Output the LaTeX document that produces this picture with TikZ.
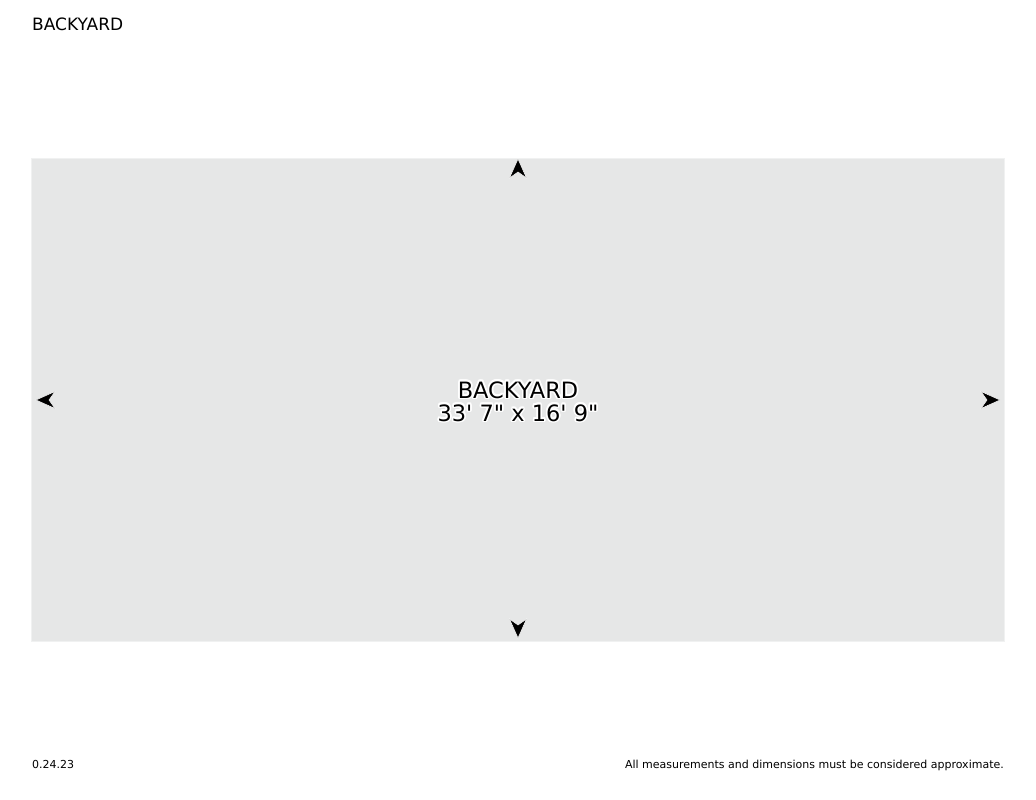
\documentclass[tikz,border=0pt]{standalone}
\usepackage{fontspec}
\setmainfont{DejaVu Sans}
\usepackage{contour}
\contourlength{1.6pt}
\usetikzlibrary{positioning}
\definecolor{yardgrey}{RGB}{230,231,231}
\definecolor{yardedge}{RGB}{240,241,241}
\newcommand{\ft}{\textquotesingle}
\newcommand{\inch}{\textquotedbl}

\begin{document}
\begin{tikzpicture}[x=1pt, y=-1pt,
    yard/.style={fill=yardgrey, draw=yardedge, line width=0.8pt},
    dimtip/.style={fill=black, draw=white, line width=0.5pt, line join=miter},
    pagetitle/.style={font=\fontsize{17}{19}\selectfont, anchor=base west, inner sep=0pt},
    roomname/.style={font=\fontsize{22.5}{24}\selectfont, anchor=base, inner sep=0pt},
    footer/.style={font=\fontsize{11}{12}\selectfont, anchor=base, inner sep=0pt}]
  \useasboundingbox (0,0) rectangle (1036,800);
  % yard area
  \draw [yard] (31,158) rectangle (1004,641);
  % dimension tips
  \foreach \x/\y/\a in {518/159/90, 518/638/-90, 36/400/180, 1000/400/0}
    \filldraw [dimtip, shift={(\x,\y)}, rotate=\a] (0,0) -- (-19,8.5) -- (-13,0) -- (-19,-8.5) -- cycle;
  % texts
  \node [pagetitle] (title) at (32,31) {BACKYARD};
  \node [roomname] (name) at (518,398) {\contour{white}{BACKYARD}};
  \node [roomname] (size) at (518,421) {\contour{white}{33\ft{} 7\inch{} x 16\ft{} 9\inch}};
  \node [footer, anchor=base west] (date) at (32,768) {0.24.23};
  \node [footer, anchor=base east] (note) at (1004,768) {All measurements and dimensions must be considered approximate.};
\end{tikzpicture}
\end{document}
